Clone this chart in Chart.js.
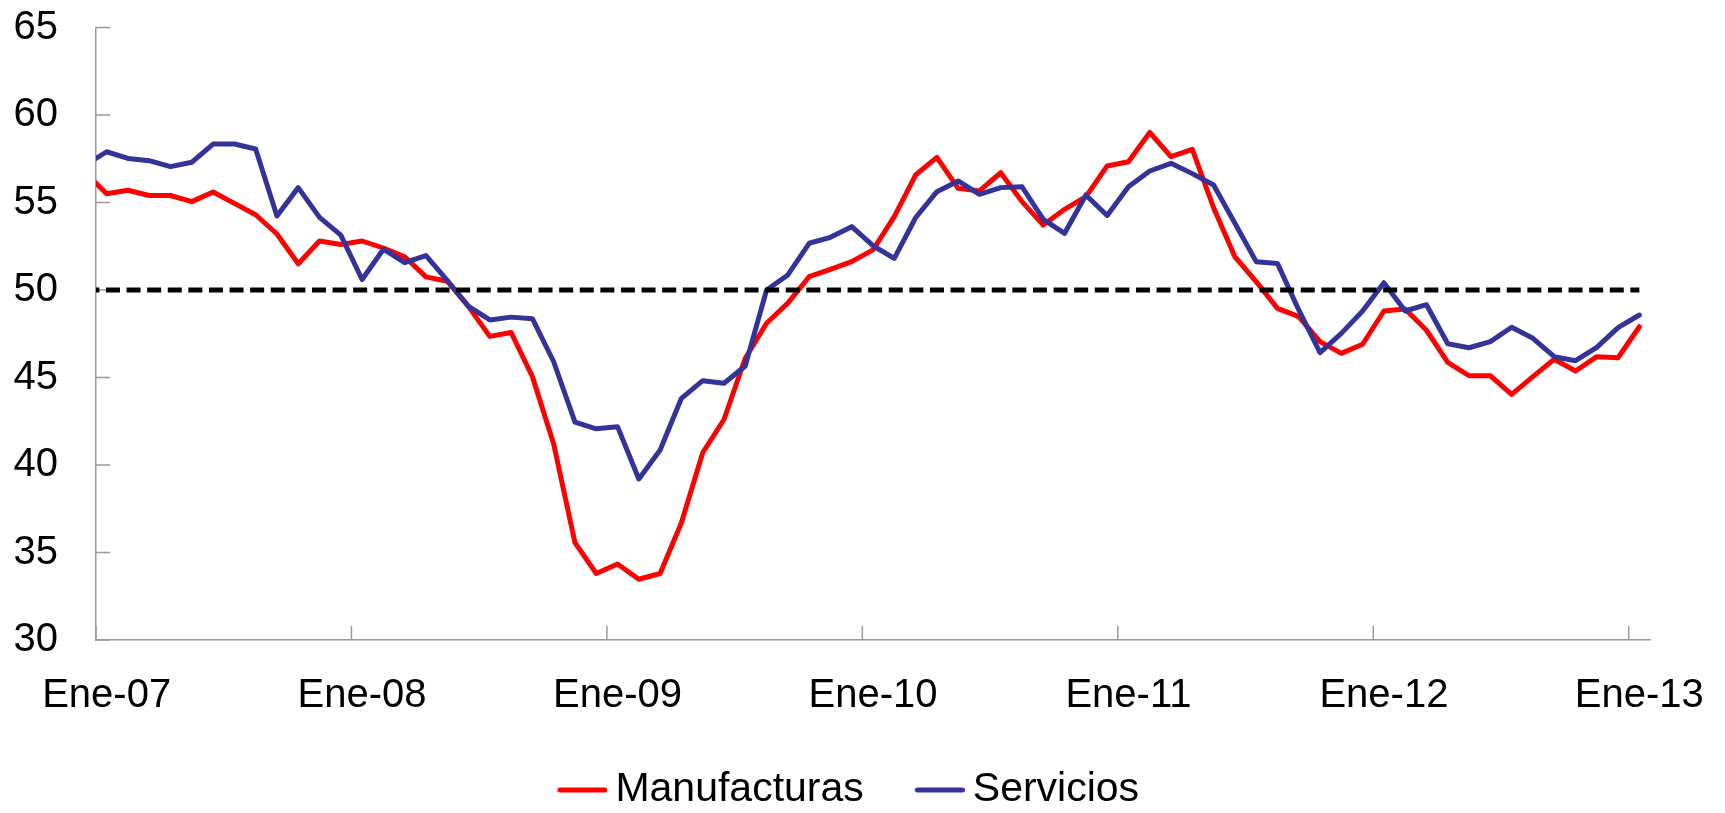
<!DOCTYPE html>
<html>
<head>
<meta charset="utf-8">
<script src="https://cdn.jsdelivr.net/npm/chart.js@4.4.1/dist/chart.umd.min.js"></script>
<style>
  html, body { margin: 0; padding: 0; background: #fff; }
  #grafico { display: block; }
</style>
</head>
<body>
<canvas id="grafico" width="1725" height="813"></canvas>
<script>
// Meses (Dic-06 solo sirve para el tramo que entra por el eje)
var MESES = ["Ene", "Feb", "Mar", "Abr", "May", "Jun", "Jul", "Ago", "Sep", "Oct", "Nov", "Dic"];
var ETIQUETAS = ["Dic-06"];
for (var a = 7; a <= 12; a++) {
  for (var m = 0; m < 12; m++) {
    ETIQUETAS.push(MESES[m] + "-" + (a < 10 ? "0" + a : a));
  }
}
ETIQUETAS.push("Ene-13");

var MANUFACTURAS = [
  56.7,
  55.5, 55.7, 55.4, 55.4, 55.05, 55.6, 54.95, 54.3, 53.2, 51.5, 52.8, 52.6,
  52.8, 52.4, 51.9, 50.75, 50.5, 49.05, 47.35, 47.57, 45.05, 41.2, 35.56, 33.8,
  34.34, 33.47, 33.8, 36.7, 40.7, 42.6, 46.1, 48.1, 49.25, 50.76, 51.18, 51.62,
  52.29, 54.19, 56.57, 57.58, 55.81, 55.66, 56.7, 55.05, 53.71, 54.61, 55.33, 57.09,
  57.33, 59.0, 57.62, 58.04, 54.7, 51.9, 50.48, 48.95, 48.48, 47.05, 46.38, 46.9,
  48.8, 48.92, 47.7, 45.86, 45.1, 45.1, 44.04, 45.05, 46.04, 45.37, 46.19, 46.13,
  47.9
];

var SERVICIOS = [
  57.14,
  57.9, 57.52, 57.39, 57.05, 57.3, 58.34, 58.34, 58.06, 54.23, 55.85, 54.15, 53.14,
  50.6, 52.33, 51.56, 51.97, 50.55, 49.07, 48.29, 48.45, 48.36, 45.9, 42.45, 42.07,
  42.19, 39.2, 40.86, 43.81, 44.82, 44.67, 45.66, 50.0, 50.86, 52.67, 53.01, 53.62,
  52.53, 51.81, 54.13, 55.62, 56.23, 55.47, 55.85, 55.9, 54.04, 53.24, 55.43, 54.26,
  55.9, 56.8, 57.24, 56.65, 56.0, 53.81, 51.62, 51.52, 48.86, 46.42, 47.52, 48.8,
  50.42, 48.8, 49.16, 46.93, 46.7, 47.05, 47.87, 47.24, 46.19, 45.96, 46.72, 47.85,
  48.57
];

var UMBRAL = 50; // linea de referencia (expansion / contraccion)
var Y_MIN = 30, Y_MAX = 65, Y_PASO = 5;

var FUENTE = "'Liberation Sans', Arial, sans-serif";
var GRIS_EJE = "#9a9a9a";
var LARGO_MARCA = 14;
var ROJO = "#ff0000", AZUL = "#333399";

/*
  Trazo de la leyenda: un canvas con la linea pegada a la derecha,
  asi el texto queda cerca de la linea como en el original.
*/
function trazoLeyenda(color) {
  var c = document.createElement("canvas");
  c.width = 96;
  c.height = 8;
  var g = c.getContext("2d");
  g.strokeStyle = color;
  g.lineWidth = 5;
  g.lineCap = "round";
  g.beginPath();
  g.moveTo(48.5, 4);
  g.lineTo(93.5, 4);
  g.stroke();
  return c;
}

/*
  Marcas de los ejes hacia dentro del area del grafico,
  como las dibuja Excel.
*/
var marcasInternas = {
  id: "marcasInternas",
  beforeDatasetsDraw: function (chart) {
    var ctx = chart.ctx, area = chart.chartArea;
    var ex = chart.scales.x, ey = chart.scales.y;
    ctx.save();
    ctx.strokeStyle = GRIS_EJE;
    ctx.lineWidth = 1.5;
    ctx.beginPath();
    ey.ticks.forEach(function (t) {
      var py = ey.getPixelForValue(t.value);
      ctx.moveTo(area.left, py);
      ctx.lineTo(area.left + LARGO_MARCA, py);
    });
    ex.ticks.forEach(function (t) {
      if (ETIQUETAS[t.value].indexOf("Ene") !== 0) return;
      var px = ex.getPixelForValue(t.value - 0.5);
      ctx.moveTo(px, area.bottom);
      ctx.lineTo(px, area.bottom - LARGO_MARCA);
    });
    ctx.stroke();
    ctx.restore();
  }
};

var ctx = document.getElementById("grafico").getContext("2d");
new Chart(ctx, {
  type: "line",
  data: {
    labels: ETIQUETAS,
    datasets: [
      {
        label: "Manufacturas",
        data: MANUFACTURAS,
        borderColor: ROJO,
        backgroundColor: ROJO,
        borderWidth: 5,
        borderJoinStyle: "round",
        borderCapStyle: "round",
        pointRadius: 0,
        pointStyle: trazoLeyenda(ROJO),
        tension: 0,
        clip: 0,
        order: 2
      },
      {
        label: "Servicios",
        data: SERVICIOS,
        borderColor: AZUL,
        backgroundColor: AZUL,
        borderWidth: 5,
        borderJoinStyle: "round",
        borderCapStyle: "round",
        pointRadius: 0,
        pointStyle: trazoLeyenda(AZUL),
        tension: 0,
        clip: 0,
        order: 1
      },
      {
        label: "umbral",
        data: ETIQUETAS.map(function () { return UMBRAL; }),
        borderColor: "#000000",
        borderWidth: 5,
        borderDash: [14, 6.6],
        borderCapStyle: "butt",
        pointRadius: 0,
        clip: 0,
        order: 0
      }
    ]
  },
  options: {
    responsive: false,
    animation: false,
    events: [],
    layout: { padding: { left: 13, right: 75, top: 27.5, bottom: -7.5 } },
    scales: {
      x: {
        type: "category",
        min: "Ene-07",
        offset: true,
        grid: { drawOnChartArea: false, drawTicks: false },
        border: { color: GRIS_EJE, width: 1.5 },
        ticks: {
          autoSkip: false,
          maxRotation: 0,
          padding: 0,
          color: "#000",
          // alto de linea grande: centra la etiqueta 56px bajo el eje
          font: { family: FUENTE, size: 40, lineHeight: 2.8 },
          callback: function (value) {
            var lbl = this.getLabelForValue(value);
            return lbl.indexOf("Ene") === 0 ? lbl : "";
          }
        }
      },
      y: {
        min: Y_MIN,
        max: Y_MAX,
        grid: { drawOnChartArea: false, drawTicks: true, tickLength: 38, tickColor: "rgba(0,0,0,0)" },
        border: { color: GRIS_EJE, width: 1.5 },
        ticks: {
          stepSize: Y_PASO,
          padding: 0,
          color: "#000",
          font: { family: FUENTE, size: 40 }
        },
        afterFit: function (scale) {
          scale.width = 83; // el eje queda en x = 96
        }
      }
    },
    plugins: {
      tooltip: { enabled: false },
      legend: {
        position: "bottom",
        labels: {
          usePointStyle: true,
          pointStyleWidth: 71,
          padding: 17.5,
          color: "#000",
          font: { family: FUENTE, size: 41 },
          filter: function (item) { return item.text !== "umbral"; },
          sort: function (a, b) { return a.datasetIndex - b.datasetIndex; }
        }
      }
    }
  },
  plugins: [marcasInternas]
});
</script>
</body>
</html>
